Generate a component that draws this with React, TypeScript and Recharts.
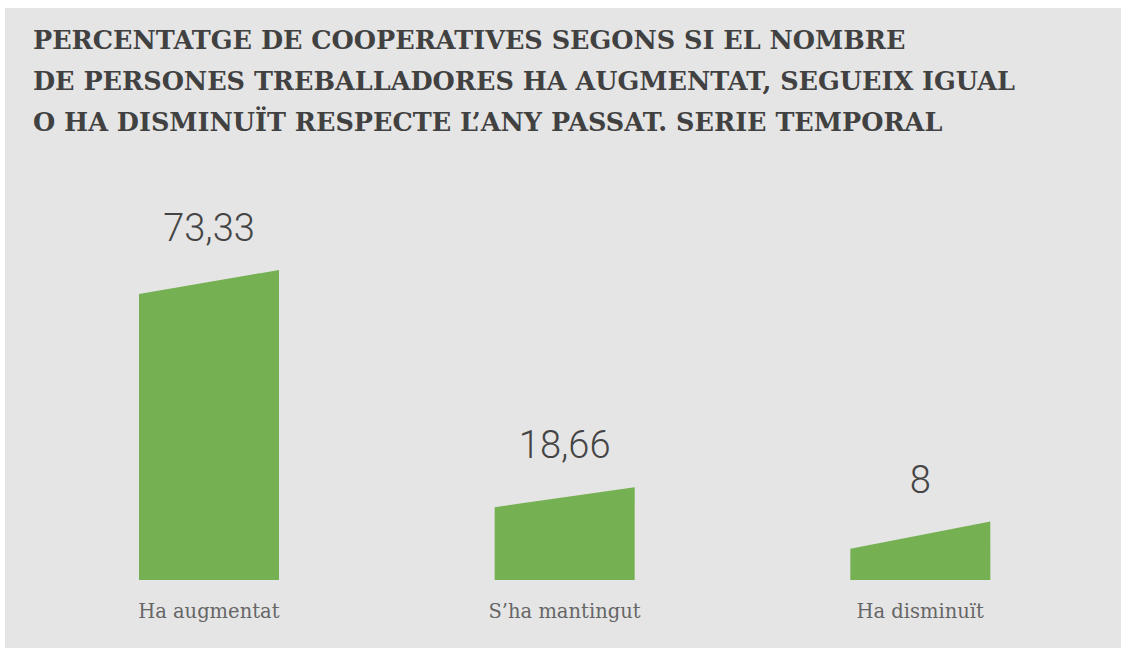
import { BarChart, Bar, XAxis, YAxis, LabelList } from "recharts";

const categories = ["Ha augmentat", "S’ha mantingut", "Ha disminuït"];
const values = [73.33, 18.66, 8];
// height reached by the right edge of each slanted bar
const endValues = [79.5, 23.8, 15.0];
const titleLines = [
  "PERCENTATGE DE COOPERATIVES SEGONS SI EL NOMBRE",
  "DE PERSONES TREBALLADORES HA AUGMENTAT, SEGUEIX IGUAL",
  "O HA DISMINUÏT RESPECTE L’ANY PASSAT. SERIE TEMPORAL",
];

const data = categories.map((name, i) => ({ name, value: values[i], end: endValues[i] }));

const GREEN = "#75b052";
const BG = "#e5e5e5";

function fmt(v: number) {
  return String(v).replace(".", ",");
}

function SlantBar(props: any) {
  const { x, y, width, height, payload } = props;
  const bottom = y + height;
  const rh = (height * payload.end) / payload.value;
  const d = `M${x},${bottom} L${x},${y} L${x + width},${bottom - rh} L${x + width},${bottom} Z`;
  return <path d={d} fill={GREEN} />;
}

function ValueLabel(props: any) {
  const { x, y, width, height, index } = props;
  const row = data[index];
  const bottom = y + height;
  const rightTop = bottom - (height * row.end) / row.value;
  return (
    <text
      x={x + width / 2}
      y={rightTop - 29}
      textAnchor="middle"
      fill="#444"
      fontSize={38}
      fontWeight={300}
      fontFamily="Roboto, 'DejaVu Sans', sans-serif"
    >
      {fmt(row.value)}
    </text>
  );
}

export default function App() {
  return (
    <div style={{ position: "fixed", left: 5, top: 8, width: 1116, height: 640, background: BG, overflow: "hidden" }}>
      <div
        style={{
          position: "absolute",
          left: 28,
          top: 12,
          fontFamily: "'DejaVu Serif', serif",
          fontWeight: 700,
          fontSize: 25.5,
          lineHeight: "41px",
          color: "#414141",
          whiteSpace: "nowrap",
        }}
      >
        {titleLines.map((l) => (
          <div key={l}>{l}</div>
        ))}
      </div>
      <div style={{ position: "absolute", left: 0, top: 0 }}>
        <BarChart width={1116} height={640} data={data} margin={{ top: 260, right: 23, left: 26, bottom: 0 }}>
          <XAxis
            dataKey="name"
            axisLine={false}
            tickLine={false}
            tickMargin={18}
            height={68}
            tick={{ fill: "#666", fontSize: 19.5, fontFamily: "'DejaVu Serif', serif", fontWeight: 300 }}
          />
          <YAxis hide domain={[0, 80]} />
          <Bar dataKey="value" barSize={140} shape={<SlantBar />} isAnimationActive={false}>
            <LabelList dataKey="value" content={<ValueLabel />} />
          </Bar>
        </BarChart>
      </div>
    </div>
  );
}
